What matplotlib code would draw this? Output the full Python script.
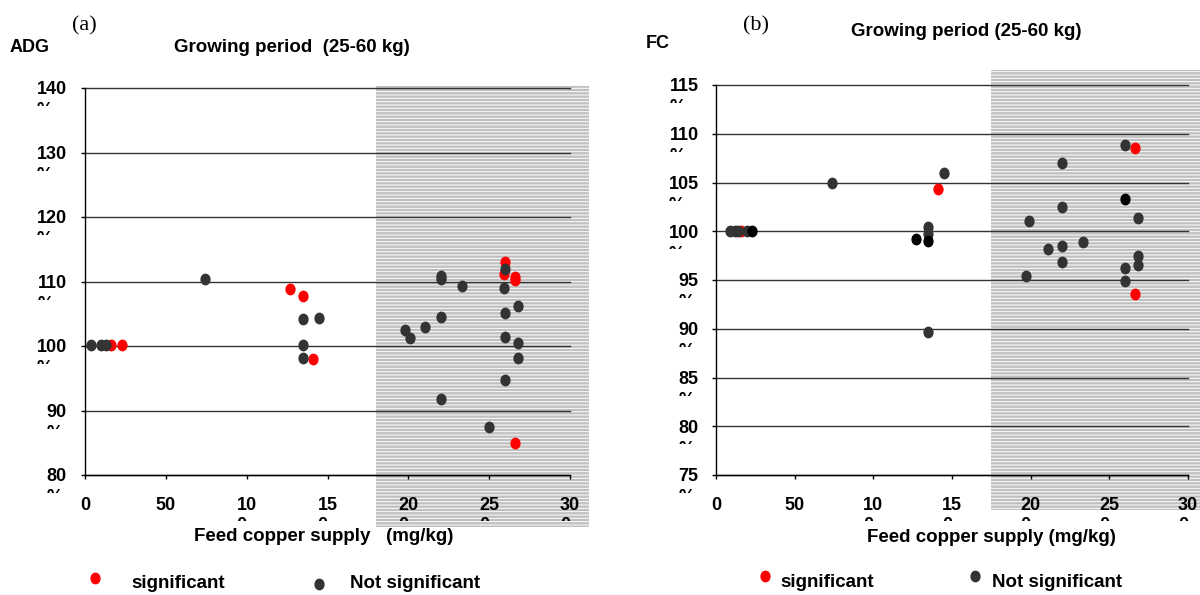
import matplotlib
matplotlib.use("Agg")
import matplotlib.pyplot as plt
from matplotlib.patches import Rectangle
from matplotlib.lines import Line2D
from matplotlib.path import Path
from matplotlib import transforms

plt.rcParams['font.family'] = ['Liberation Sans', 'DejaVu Sans']
plt.rcParams['hatch.linewidth'] = 0.7

x_ticks = [0, 50, 100, 150, 200, 250, 300]

# (a) ADG, % of control
adg_ticks = [80, 90, 100, 110, 120, 130, 140]
adg_sig_x = [16, 23, 127, 135, 141, 260, 259, 266, 266, 266]
adg_sig_y = [100.2, 100.2, 108.8, 107.8, 98.0, 113.1, 111.1, 110.7, 110.2, 84.9]
adg_ns_x = [4, 10, 13, 74, 135, 145, 135, 135, 198, 201, 210, 220, 220,
            220, 220, 233, 250, 259, 260, 260, 260, 260, 268, 268, 268]
adg_ns_y = [100.2, 100.2, 100.2, 110.4, 104.2, 104.4, 100.2, 98.1,
            102.5, 101.3, 103.0, 110.9, 110.4, 104.5, 91.8, 109.3, 87.5, 109.0,
            112.0, 105.1, 101.4, 94.8, 106.2, 100.4, 98.1]

# (b) FC, % of control
fc_ticks = [75, 80, 85, 90, 95, 100, 105, 110, 115]
fc_sig_x = [16, 141, 266, 266]
fc_sig_y = [100.0, 104.3, 108.5, 93.6]
fc_ns_x = [9, 12, 14, 20, 74, 135, 135, 145, 135, 197, 199, 211, 220, 220, 220,
           220, 233, 260, 260, 260, 268, 268, 268]
fc_ns_y = [100, 100, 100, 100, 104.9, 100.4, 99.7, 106.0, 89.7, 95.4, 101.1, 98.2,
           107.0, 102.5, 98.5, 96.8, 98.9, 108.8, 96.2, 94.9, 101.4, 97.5, 96.5]
fc_blk_x = [23, 127, 135, 260]
fc_blk_y = [100, 99.2, 99.0, 103.3]

RED = '#ff0000'
DARK = '#333333'

W, H = 1200, 595
fig = plt.figure(figsize=(12, 5.95), dpi=100)


def fx(x):
    return x / W


def fy(y):
    return 1 - y / H


circ = Path.unit_circle()
oval = Path(circ.vertices * [0.85, 1.0], circ.codes)

ax_a = fig.add_axes([fx(85), fy(475), (570 - 85) / W, (475 - 88) / H])
ax_b = fig.add_axes([fx(716), fy(475), (1188 - 716) / W, (475 - 85) / H])


def setup(ax, yticks, gray_x, gray_top, gray_bot, ypad, ycut):
    ax.set_facecolor('none')
    ax.set_xlim(0, 300)
    ax.set_ylim(yticks[0], yticks[-1])
    for s in ['top', 'right']:
        ax.spines[s].set_visible(False)
    for s in ['left', 'bottom']:
        ax.spines[s].set_color('black')
        ax.spines[s].set_linewidth(1)
    ax.set_axisbelow(True)
    ax.grid(axis='y', color='#333333', linewidth=1)
    ax.grid(axis='x', visible=False)
    for gl in ax.get_ygridlines():
        gl.set_clip_on(False)

    # shaded high-copper zone, reaches below the axis like in the original
    tr = transforms.blended_transform_factory(ax.transData, fig.transFigure)
    fig.add_artist(Rectangle((gray_x[0], fy(gray_bot)), gray_x[1] - gray_x[0],
                             fy(gray_top) - fy(gray_bot), transform=tr,
                             facecolor='#c0c0c0', edgecolor='white',
                             hatch='-----', linewidth=0, zorder=-1))

    ax.set_xticks(x_ticks)
    xl = [str(v) if len(str(v)) < 3 else str(v)[:2] + '\n' + str(v)[2:] for v in x_ticks]
    ax.set_xticklabels(xl, fontweight='bold', fontsize=13)
    ax.set_yticks(yticks)
    ax.set_yticklabels([f"{v}\n%" for v in yticks], fontweight='bold', fontsize=13)
    ax.tick_params(axis='x', direction='out', length=3, width=1, pad=12.5)
    ax.tick_params(axis='y', direction='out', length=3, width=1, pad=ypad)

    # labels are wrapped and cut off at the bottom, as in the source chart
    shift = transforms.ScaledTranslation(0, 4.7 / 72, fig.dpi_scale_trans)
    for v, lab in zip(yticks, ax.get_yticklabels()):
        lab.set_va('top')
        lab.set_multialignment('left')
        lab.set_linespacing(1.3)
        lab.set_transform(lab.get_transform() + shift)
        lab.set_clip_on(True)
        lab.set_clip_path(Rectangle((-1, v - ycut), 2, 1000,
                                    transform=ax.get_yaxis_transform()))
    for lab in ax.get_xticklabels():
        lab.set_multialignment('left')
        lab.set_linespacing(1.3)
        lab.set_clip_on(True)
        lab.set_clip_path(Rectangle((-50, -0.118), 1000, 2,
                                    transform=ax.get_xaxis_transform()))


setup(ax_a, adg_ticks, (180, 312), 86, 527, 10, 2.8)
setup(ax_b, fc_ticks, (175, 310), 70, 510, 9.5, 1.85)

ms = 7.5
ax_a.plot(adg_sig_x, adg_sig_y, ls='none', marker=oval, ms=ms, color=RED, mec=RED)
ax_a.plot(adg_ns_x, adg_ns_y, ls='none', marker=oval, ms=ms, color=DARK, mec=DARK)
ax_b.plot(fc_sig_x, fc_sig_y, ls='none', marker=oval, ms=ms, color=RED, mec=RED)
ax_b.plot(fc_ns_x, fc_ns_y, ls='none', marker=oval, ms=ms, color=DARK, mec=DARK)
ax_b.plot(fc_blk_x, fc_blk_y, ls='none', marker=oval, ms=ms, color='black', mec='black')

ax_a.set_xlabel("Feed copper supply   (mg/kg)", fontweight='bold', fontsize=13.5, va='center')
ax_a.xaxis.set_label_coords(0.493, -0.158)
ax_b.set_xlabel("Feed copper supply (mg/kg)", fontweight='bold', fontsize=13.5, va='center')
ax_b.xaxis.set_label_coords(0.583, -0.159)

# headers
fig.text(fx(72), fy(26), "(a)", family='Liberation Serif', fontsize=16, va='center')
fig.text(fx(10), fy(47), "ADG", fontweight='bold', fontsize=13, va='center')
fig.text(fx(292), fy(47), "Growing period  (25-60 kg)", fontweight='bold',
         fontsize=13.5, ha='center', va='center')
fig.text(fx(743), fy(26), "(b)", family='Liberation Serif', fontsize=16, va='center')
fig.text(fx(646), fy(44), "FC", fontweight='bold', fontsize=13, va='center')
fig.text(fx(966), fy(31), "Growing period (25-60 kg)", fontweight='bold',
         fontsize=13.5, ha='center', va='center')

# legends under each panel
leg = [
    (95, 578, RED, 131, 588, "significant"),
    (319, 584, DARK, 350, 588, "Not significant"),
    (765, 576, RED, 780, 587, "significant"),
    (975, 576, DARK, 992, 587, "Not significant"),
]
for mx, my, c, tx, ty, txt in leg:
    fig.add_artist(Line2D([fx(mx)], [fy(my)], transform=fig.transFigure, ls='none',
                          marker=oval, ms=ms, color=c, mec=c))
    fig.text(fx(tx), fy(ty), txt, fontweight='bold', fontsize=13.5, va='baseline')

fig.savefig("out.png", dpi=100)
